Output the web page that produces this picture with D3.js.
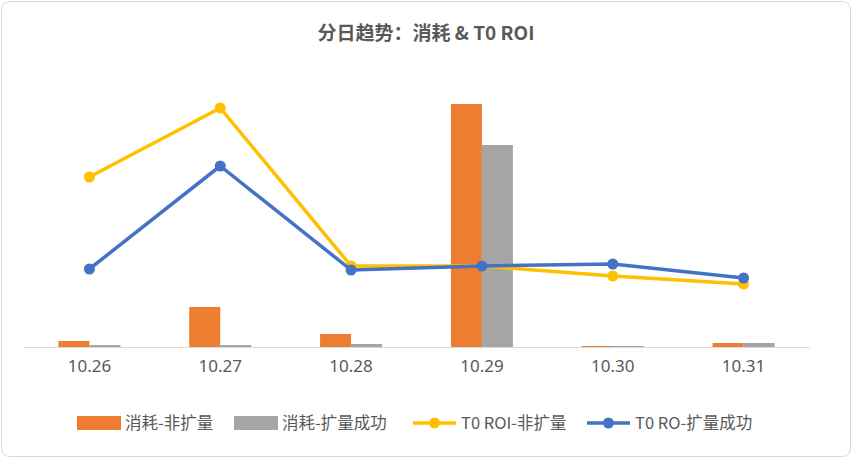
<!DOCTYPE html><html><head><meta charset="utf-8">
<script src="https://cdn.jsdelivr.net/npm/d3@7"></script>
<style>body{margin:0;background:#fff}svg{font-family:"Noto Sans CJK SC","Noto Sans",sans-serif}</style></head><body>
<svg id="c" width="852" height="458"></svg>
<script>
const categories=["10.26","10.27","10.28","10.29","10.30","10.31"];
const costNonExp=[6,40,13,243,1,4];
const costExpOk=[2,2,3,202,1,4];
const roiNonExp=[170,239,81,81,71,63];
const roiExpOk=[78,181,77,81,83,69];
const seriesNames=["消耗-非扩量","消耗-扩量成功","T0 ROI-非扩量","T0 RO-扩量成功"];
const colors=["#ED7D31","#A5A5A5","#FFC000","#4472C4"];
const svg=d3.select("#c");
svg.append("rect").attr("x",1.5).attr("y",1.5).attr("width",849).attr("height",455).attr("rx",8).attr("fill","#fff").attr("stroke","#d9d9d9");
svg.append("text").attr("x",426).attr("y",40).attr("text-anchor","middle").attr("font-size",19).attr("font-weight","bold").attr("fill","#595959").text("分日趋势：消耗 & T0 ROI");
const x=d3.scaleBand().domain(categories).range([24,809]);
const y=d3.scaleLinear().domain([0,300]).range([347,47]);
const bw=31;
svg.selectAll(".b1").data(costNonExp).join("rect").attr("x",(d,i)=>x(categories[i])+x.bandwidth()/2-bw).attr("y",d=>y(d)).attr("width",bw).attr("height",d=>y(0)-y(d)).attr("fill",colors[0]);
svg.selectAll(".b2").data(costExpOk).join("rect").attr("x",(d,i)=>x(categories[i])+x.bandwidth()/2).attr("y",d=>y(d)).attr("width",bw).attr("height",d=>y(0)-y(d)).attr("fill",colors[1]);
const ax=svg.append("g").attr("transform","translate(0,347)").call(d3.axisBottom(x).tickSize(0).tickPadding(13));
ax.select(".domain").attr("stroke","#d9d9d9");
ax.selectAll("text").attr("font-size",17).attr("fill","#595959").attr("font-family","'Noto Sans',sans-serif");
const cx=i=>x(categories[i])+x.bandwidth()/2;
[[roiNonExp,colors[2]],[roiExpOk,colors[3]]].forEach(([d,c])=>{
 svg.append("path").datum(d).attr("fill","none").attr("stroke",c).attr("stroke-width",3.5).attr("stroke-linejoin","round")
  .attr("d",d3.line().x((v,i)=>cx(i)).y(v=>y(v)));
 svg.selectAll(null).data(d).join("circle").attr("cx",(v,i)=>cx(i)).attr("cy",v=>y(v)).attr("r",5.5).attr("fill",c);
});
const lg=[{x:77,t:"rect"},{x:234,t:"rect"},{x:413,t:"line"},{x:587,t:"line"}];
lg.forEach((l,i)=>{
 const g=svg.append("g");
 if(l.t==="rect") g.append("rect").attr("x",l.x).attr("y",416).attr("width",44).attr("height",14).attr("fill",colors[i]);
 else{g.append("line").attr("x1",l.x).attr("x2",l.x+43).attr("y1",423).attr("y2",423).attr("stroke",colors[i]).attr("stroke-width",3.5);
  g.append("circle").attr("cx",l.x+21.5).attr("cy",423).attr("r",5.5).attr("fill",colors[i]);}
 g.append("text").attr("x",l.x+48).attr("y",429).attr("font-size",16.5).attr("fill","#595959").text(seriesNames[i]);
});
</script></body></html>
